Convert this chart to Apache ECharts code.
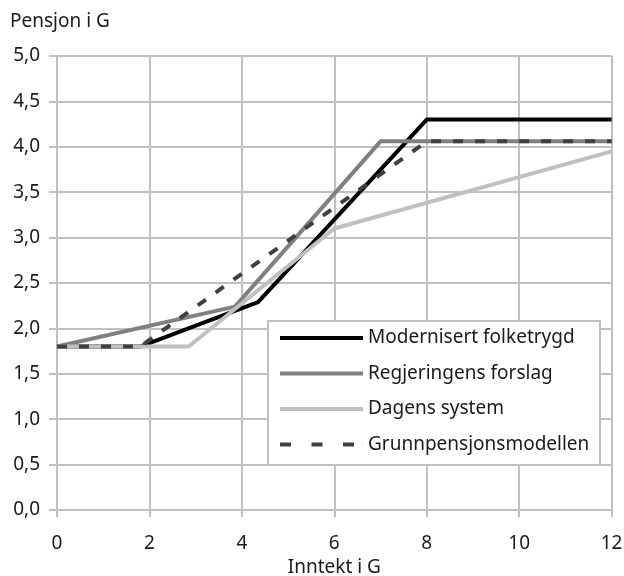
<!DOCTYPE html>
<html>
<head>
<meta charset="utf-8">
<script src="https://cdn.jsdelivr.net/npm/echarts@6/dist/echarts.min.js"></script>
<style>
html,body{margin:0;padding:0;background:#fff;}
#chart{width:624px;height:576px;}
</style>
</head>
<body>
<div id="chart"></div>
<script>
// Data
const seriesNames = ['Modernisert folketrygd', 'Regjeringens forslag', 'Dagens system', 'Grunnpensjonsmodellen'];
const modernisertX = [0, 1.8, 4.35, 8, 12];
const modernisertY = [1.8, 1.8, 2.29, 4.3, 4.3];
const regjeringX = [0, 3.85, 7, 12];
const regjeringY = [1.8, 2.24, 4.06, 4.06];
const dagensX = [0, 2.85, 6, 12];
const dagensY = [1.8, 1.8, 3.1, 3.95];
const grunnX = [0, 1.8, 8, 12];
const grunnY = [1.8, 1.8, 4.06, 4.06];
const xTicks = [0, 2, 4, 6, 8, 10, 12];
const yTicks = [0, 0.5, 1, 1.5, 2, 2.5, 3, 3.5, 4, 4.5, 5];
const yTitle = 'Pensjon i G';
const xTitle = 'Inntekt i G';

function pairs(xs, ys) { return xs.map((x, i) => [x, ys[i]]); }

const FONT = 'Noto Sans';
const TXT = '#1a1a1a';
const GRID = '#c0c0c0';
const SOLID_ICON = 'path://M0,0h83v4h-83z';
const DASH_ICON = 'path://M0,0h11v4h-11z M31.5,0h11v4h-11z M63,0h11v4h-11z M82.9,0h0.1v4h-0.1z';

const chart = echarts.init(document.getElementById('chart'), null, {renderer: 'canvas'});
const option = {
  animation: false,
  backgroundColor: '#fff',
  textStyle: {fontFamily: FONT},
  title: {
    text: yTitle, left: 10, top: 12, padding: 0,
    textStyle: {fontFamily: FONT, fontSize: 19, fontWeight: 'normal', color: TXT}
  },
  grid: {left: 57, right: 12.4, top: 56, bottom: 66, containLabel: false, outerBoundsMode: 'none'},
  xAxis: {
    type: 'value', min: xTicks[0], max: xTicks[xTicks.length - 1], interval: 2,
    name: xTitle, nameLocation: 'middle', nameGap: 42,
    nameTextStyle: {fontFamily: FONT, fontSize: 19, color: TXT},
    axisLine: {show: true, lineStyle: {color: GRID, width: 2}},
    axisTick: {show: true, length: 7, lineStyle: {color: GRID, width: 2}},
    axisLabel: {fontFamily: FONT, fontSize: 19, color: TXT, margin: 24},
    splitLine: {show: true, lineStyle: {color: GRID, width: 2}}
  },
  yAxis: {
    type: 'value', min: yTicks[0], max: yTicks[yTicks.length - 1], interval: 0.5,
    axisLine: {show: true, lineStyle: {color: GRID, width: 2}},
    axisTick: {show: true, length: 8, lineStyle: {color: GRID, width: 2}},
    axisLabel: {fontFamily: FONT, fontSize: 19, color: TXT, margin: 17,
      formatter: v => v.toFixed(1).replace('.', ',')},
    splitLine: {show: true, lineStyle: {color: GRID, width: 2}}
  },
  graphic: [{
    type: 'rect', z: 5, silent: true,
    shape: {x: 268, y: 321, width: 332, height: 144},
    style: {fill: '#fff', stroke: GRID, lineWidth: 2}
  }],
  legend: {
    orient: 'vertical', left: 280, top: 328, padding: 0, z: 10,
    itemWidth: 83, itemHeight: 4, itemGap: 15.5,
    textStyle: {fontFamily: FONT, fontSize: 19, color: TXT, lineHeight: 20, height: 20},
    data: [
      {name: seriesNames[0], icon: SOLID_ICON, itemStyle: {color: '#000'}},
      {name: seriesNames[1], icon: SOLID_ICON, itemStyle: {color: '#808080'}},
      {name: seriesNames[2], icon: SOLID_ICON, itemStyle: {color: '#c0c0c0'}},
      {name: seriesNames[3], icon: DASH_ICON, itemStyle: {color: '#404040'}}
    ]
  },
  series: [
    {name: seriesNames[0], type: 'line', data: pairs(modernisertX, modernisertY),
     showSymbol: false, symbol: 'none', lineStyle: {color: '#000', width: 4, join: 'round'}, itemStyle: {color: '#000'}},
    {name: seriesNames[1], type: 'line', data: pairs(regjeringX, regjeringY),
     showSymbol: false, symbol: 'none', lineStyle: {color: '#808080', width: 4, join: 'round'}, itemStyle: {color: '#808080'}},
    {name: seriesNames[2], type: 'line', data: pairs(dagensX, dagensY),
     showSymbol: false, symbol: 'none', lineStyle: {color: '#c0c0c0', width: 4, join: 'round'}, itemStyle: {color: '#c0c0c0'}},
    {name: seriesNames[3], type: 'line', data: pairs(grunnX, grunnY),
     showSymbol: false, symbol: 'none', lineStyle: {color: '#404040', width: 4, type: [10, 12]}, itemStyle: {color: '#404040'}}
  ]
};
chart.setOption(option);
</script>
</body>
</html>
